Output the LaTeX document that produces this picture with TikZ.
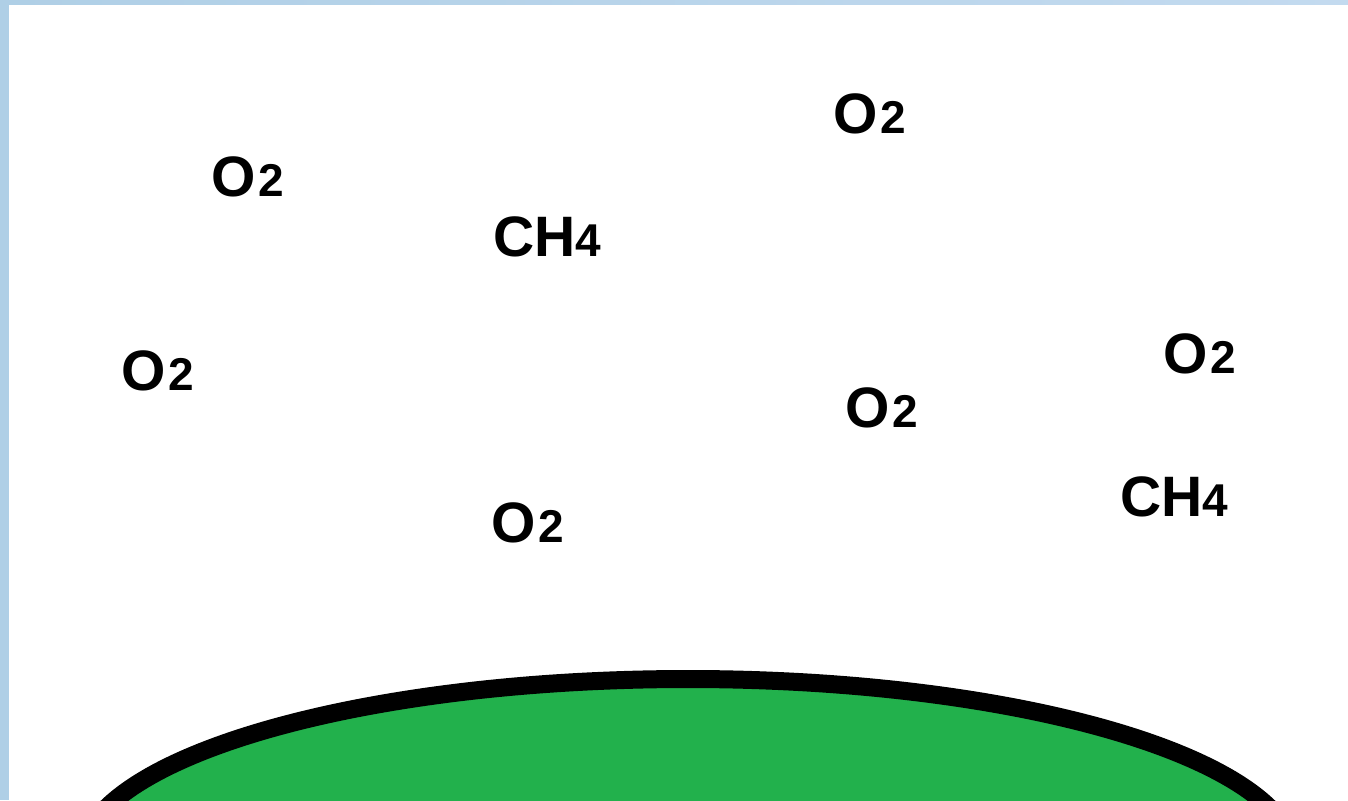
\documentclass[tikz,border=0pt]{standalone}
\usepackage{fontspec}
\setmainfont{Liberation Sans}
\definecolor{frameblue}{HTML}{AFCFE6}
\definecolor{frameblue2}{HTML}{C3DAEF}
\definecolor{paintgreen}{HTML}{22B14C}
\newcommand{\mol}[2]{\fontsize{57}{60}\selectfont\bfseries #1\kern#2\fontsize{46}{50}\selectfont\bfseries}
\tikzset{
  chem/.style={anchor=base west, inner sep=0pt, outer sep=0pt, text=black},
}
\begin{document}
\begin{tikzpicture}[x=1pt,y=-1pt]
\useasboundingbox (0,0) rectangle (1348,800);
\clip (0,0) rectangle (1348,800);
\fill[white] (0,0) rectangle (1348,800);
% frame strips
\shade[left color=frameblue, right color=frameblue2] (0,0) rectangle (1348,5);
\fill[frameblue] (0,0) rectangle (9,800);
% ground
\draw[line width=18pt, fill=paintgreen, draw=black] (688,861) ellipse [x radius=608, y radius=182];
% molecules
\node[chem] (o2a) at (833,133) {\mol{O}{3pt}2};
\node[chem] (o2b) at (211,196) {\mol{O}{3pt}2};
\node[chem] (ch4a) at (493,256) {\mol{CH}{0pt}4};
\node[chem] (o2c) at (121,390) {\mol{O}{3pt}2};
\node[chem] (o2d) at (1163,373) {\mol{O}{3pt}2};
\node[chem] (o2e) at (845,427) {\mol{O}{3pt}2};
\node[chem] (ch4b) at (1120,516) {\mol{CH}{0pt}4};
\node[chem] (o2f) at (491,542) {\mol{O}{3pt}2};
\end{tikzpicture}
\end{document}
